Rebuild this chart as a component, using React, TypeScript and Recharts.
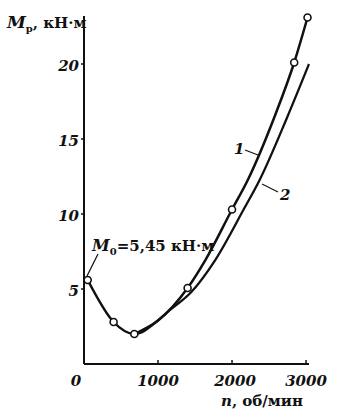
import { LineChart, Line, XAxis, YAxis } from 'recharts';

// curve 1 (n, об/мин ; M, кН·м); mark = measured point drawn as an open circle
const curve1N = [50, 400, 680, 1000, 1400, 1640, 2000, 2213, 2573, 2840, 3020];
const curve1M = [5.6, 2.8, 2.0, 2.9, 5.07, 6.93, 10.3, 12.27, 16.47, 20.1, 23.1];
const curve1Mark = [true, true, true, false, true, false, true, false, false, true, true];

// curve 2: leaves curve 1 after the minimum, no markers
const curve2N = [680, 1000, 1150, 1450, 1773, 2160, 2373, 2747, 3040];
const curve2M = [2.0, 2.9, 3.55, 4.8, 6.93, 10.33, 12.27, 16.47, 20.0];

const xTicks = [0, 1000, 2000, 3000];
const yTicks = [5, 10, 15, 20];

const curve1 = curve1N.map((n, i) => ({ n, m: curve1M[i], mark: curve1Mark[i] }));
const curve2 = curve2N.map((n, i) => ({ n, m: curve2M[i] }));

const FONT = '"DejaVu Serif", "Liberation Serif", serif';
const INK = '#111';

const XTick = (props: any) => {
    const { x, y, payload } = props;
    const dx = payload.value === 0 ? -8 : payload.value === 2000 ? 3 : 0;
    return (
        <text x={x + dx} y={y + 16} textAnchor="middle" fontFamily={FONT} fontSize={15}
            fontWeight="bold" fontStyle="italic" fill={INK}>
            {payload.value}
        </text>
    );
};

const YTick = (props: any) => {
    const { x, y, payload } = props;
    return (
        <text x={x} y={y + 7} textAnchor="end" fontFamily={FONT} fontSize={15}
            fontWeight="bold" fontStyle="italic" fill={INK}>
            {payload.value}
        </text>
    );
};

const MarkDot = (props: any) => {
    const { cx, cy, payload, index } = props;
    if (!payload || !payload.mark) return <g key={`d-${index}`} />;
    return <circle key={`d-${index}`} cx={cx} cy={cy} r={3.5} fill="#fff" stroke={INK} strokeWidth={1.6} />;
};

export default function App() {
    return (
        <div style={{ position: 'absolute', left: 0, top: 0, width: 359, height: 413, background: '#fff' }}>
            <LineChart width={359} height={413} margin={{ top: 16, right: 50, bottom: 19, left: 44 }}>
                <XAxis
                    dataKey="n"
                    type="number"
                    domain={[0, 3000]}
                    ticks={xTicks}
                    tick={<XTick />}
                    tickSize={4}
                    height={30}
                    axisLine={{ stroke: INK, strokeWidth: 2 }}
                    tickLine={{ stroke: INK, strokeWidth: 1.5, transform: 'translate(0,-4)' }}
                />
                <YAxis
                    dataKey="m"
                    type="number"
                    domain={[0, 23.2]}
                    ticks={yTicks}
                    tick={<YTick />}
                    tickSize={3}
                    tickMargin={2}
                    width={40}
                    axisLine={{ stroke: INK, strokeWidth: 2 }}
                    tickLine={{ stroke: INK, strokeWidth: 1.5 }}
                />
                <Line data={curve2} dataKey="m" type="monotone" stroke={INK} strokeWidth={2.3}
                    dot={false} isAnimationActive={false} />
                <Line data={curve1} dataKey="m" type="monotone" stroke={INK} strokeWidth={2.5}
                    dot={<MarkDot />} activeDot={false} isAnimationActive={false} />
            </LineChart>
            <svg width={359} height={413} style={{ position: 'absolute', left: 0, top: 0, pointerEvents: 'none' }}>
                <g fontFamily={FONT} fontWeight="bold" fill={INK} fontSize={15}>
                    <text x={7} y={28}>
                        <tspan fontStyle="italic" fontSize={17}>M</tspan>
                        <tspan fontSize={10} dy={4}>р</tspan>
                        <tspan dy={-4}>, кН·м</tspan>
                    </text>
                    <text x={92} y={251}>
                        <tspan fontStyle="italic" fontSize={16}>M</tspan>
                        <tspan fontSize={10} dy={4}>0</tspan>
                        <tspan dy={-4}>=5,45 кН·м</tspan>
                    </text>
                    <text x={234} y={154} fontStyle="italic">1</text>
                    <text x={280} y={200} fontStyle="italic">2</text>
                    <text x={262} y={406} textAnchor="middle">
                        <tspan fontStyle="italic">n</tspan>, об/мин
                    </text>
                </g>
                <g stroke={INK} strokeWidth={1.2}>
                    <line x1={98} y1={254} x2={87} y2={276} />
                    <line x1={245} y1={150} x2={258} y2={155} />
                    <line x1={262} y1={184} x2={278} y2={192} />
                </g>
            </svg>
        </div>
    );
}
